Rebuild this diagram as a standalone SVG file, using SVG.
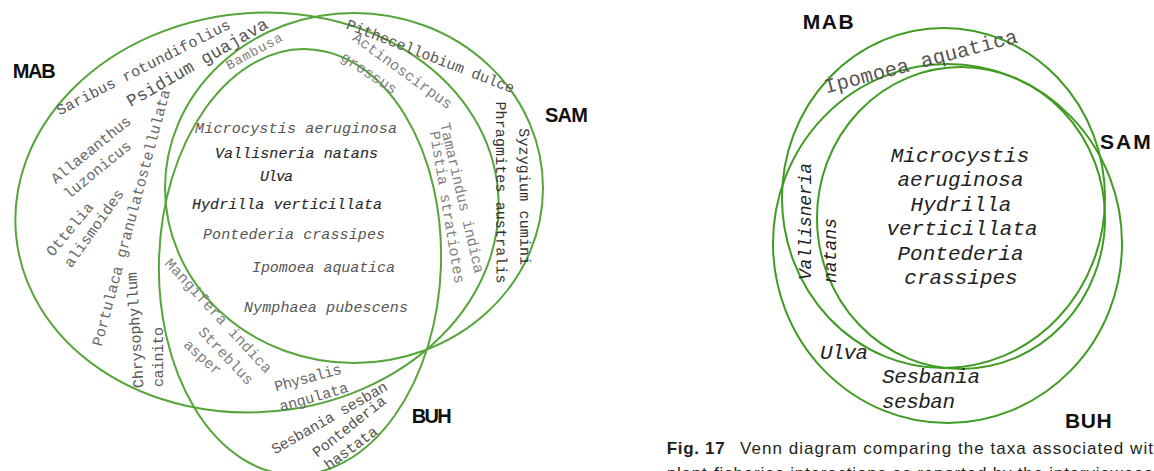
<svg xmlns="http://www.w3.org/2000/svg" width="1154" height="471" viewBox="0 0 1154 471">
<style>
.ring{fill:none;stroke:#55a53a;stroke-width:2}
.ring2{fill:none;stroke:#3f9c22;stroke-width:2}
.m{font-family:"Liberation Mono","Courier New",monospace;font-size:15px}
.c{text-anchor:middle;dominant-baseline:central}
.i{font-style:italic}
.g5{fill:#555}.g6{fill:#666}.g7{fill:#808080}.g3{fill:#333}.g2{fill:#2a2a2a;stroke:#2a2a2a;stroke-width:0.15}
.set{font-family:"Liberation Sans",Arial,sans-serif;font-weight:bold;font-size:20px;fill:#111}
.big{font-family:"Liberation Mono","Courier New",monospace;font-size:21px;font-style:italic;fill:#222}
.cap{font-family:"Liberation Sans",Arial,sans-serif;font-size:17px;fill:#231f20}
</style>
<rect width="1154" height="471" fill="#ffffff"/>
<g id="connectors"></g>
<g id="left-diagram">
  <g id="L-MAB">
    <ellipse class="ring" cx="257" cy="212.5" rx="242" ry="199.5" transform="rotate(-5.5 257 212.5)"/>
    <text class="set" x="12.7" y="78" textLength="43">MAB</text>
  </g>
  <g id="L-SAM">
    <ellipse class="ring" cx="354" cy="188" rx="189" ry="175"/>
    <text class="set" x="545" y="121.7" textLength="43">SAM</text>
  </g>
  <g id="L-BUH">
    <ellipse class="ring" cx="300" cy="262" rx="141" ry="213" transform="rotate(2 300 262)"/>
    <text class="set" x="411.7" y="422.7" textLength="40">BUH</text>
  </g>
  <g id="L-taxa-outer">
    <text class="m c g5" transform="translate(144 68.5) rotate(-27)" textLength="193">Saribus rotundifolius</text>
    <text class="m c g5" style="font-size:17.5px" transform="translate(197.5 63) rotate(-30)" textLength="160">Psidium guajava</text>
    <text class="m c g7" style="font-size:13.5px" transform="translate(254.5 52) rotate(-28.6)" textLength="62">Bambusa</text>
    <text class="m c g6" transform="translate(91.7 150.8) rotate(-38.8)" textLength="98">Allaeanthus</text>
    <text class="m c g6" transform="translate(98.3 170.8) rotate(-39.2)" textLength="82">luzonicus</text>
    <text class="m c g6" transform="translate(70.8 230) rotate(-50.2)" textLength="65">Ottelia</text>
    <text class="m c g6" transform="translate(95 229) rotate(-54.5)" textLength="92">alismoides</text>
    <text class="m c g6" transform="translate(132.5 218) rotate(-75)" textLength="265">Portulaca granulatostellulata</text>
    <text class="m c g5" transform="translate(136.5 330) rotate(-93.5)" textLength="116">Chrysophyllum</text>
    <text class="m c g5" transform="translate(159 357) rotate(-90)" textLength="60">cainito</text>
    <text class="m c g7" transform="translate(217.5 316.7) rotate(47.3)" textLength="150">Mangifera indica</text>
    <text class="m c g7" transform="translate(225 356.7) rotate(46.8)" textLength="73">Streblus</text>
    <text class="m c g7" transform="translate(201.7 358.3) rotate(42)" textLength="45">asper</text>
    <text class="m c g6" transform="translate(308.3 379) rotate(-15.3)" textLength="69">Physalis</text>
    <text class="m c g6" transform="translate(314.2 398.3) rotate(-16.3)" textLength="71">angulata</text>
    <text class="m c g5" transform="translate(330 419) rotate(-29.8)" textLength="131">Sesbania sesban</text>
    <text class="m c g5" transform="translate(350 427.5) rotate(-38.2)" textLength="89">Pontederia</text>
    <text class="m c g5" transform="translate(351.7 449) rotate(-36.2)" textLength="62">hastata</text>
    <text class="m c g5" transform="translate(430 57.5) rotate(21.3)" textLength="179">Pithecellobium dulce</text>
    <text class="m c g7" transform="translate(401.7 71.7) rotate(35.9)" textLength="119">Actinoscirpus</text>
    <text class="m c g7" transform="translate(368.3 74.2) rotate(33.3)" textLength="64">grossus</text>
    <text class="m c g7" transform="translate(460.8 198.3) rotate(76.9)" textLength="154">Tamarindus indica</text>
    <text class="m c g7" transform="translate(445.8 207.5) rotate(80.6)" textLength="154">Pistia stratiotes</text>
    <text class="m c g3" transform="translate(499.7 192.5) rotate(89.8)" textLength="182">Phragmites australis</text>
    <text class="m c g3" transform="translate(523.3 196.7) rotate(89.5)" textLength="137">Syzygium cumini</text>
  </g>
  <g id="L-taxa-core">
    <text class="m i g5" x="195" y="132.7" textLength="202">Microcystis aeruginosa</text>
    <text class="m i g2" x="215" y="158.3" textLength="163">Vallisneria natans</text>
    <text class="m i g2" x="260" y="180.7" textLength="33">Ulva</text>
    <text class="m i g2" x="192" y="209" textLength="190">Hydrilla verticillata</text>
    <text class="m i g5" x="203" y="239" textLength="182">Pontederia crassipes</text>
    <text class="m i g5" x="252" y="272.3" textLength="143">Ipomoea aquatica</text>
    <text class="m i g5" x="244" y="312.3" textLength="164">Nymphaea pubescens</text>
  </g>
</g>
<g id="right-diagram">
  <g id="R-MAB">
    <ellipse class="ring2" cx="943.5" cy="198" rx="161.5" ry="170"/>
    <text class="set" style="font-size:21px" x="802.7" y="29.3" textLength="51">MAB</text>
  </g>
  <g id="R-SAM">
    <ellipse class="ring2" cx="961" cy="218" rx="144" ry="151"/>
    <text class="set" style="font-size:21px" x="1100" y="149" textLength="50.7">SAM</text>
  </g>
  <g id="R-BUH">
    <ellipse class="ring2" cx="947.5" cy="243.5" rx="174.5" ry="179.5"/>
    <text class="set" style="font-size:21px" x="1065" y="427.7" textLength="46.7">BUH</text>
  </g>
  <g id="R-taxa">
    <text class="m c g5" style="font-size:20.5px" transform="translate(921 62.5) rotate(-14.9)" textLength="199">Ipomoea aquatica</text>
    <text class="big" style="font-size:18px" text-anchor="middle" dominant-baseline="central" transform="translate(806 221.5) rotate(-90)" textLength="117">Vallisneria</text>
    <text class="big" style="font-size:18px" text-anchor="middle" dominant-baseline="central" transform="translate(831 250.5) rotate(-90)" textLength="65">natans</text>
    <text class="big" text-anchor="middle" x="960" y="161.5">Microcystis</text>
    <text class="big" text-anchor="middle" x="960.5" y="186">aeruginosa</text>
    <text class="big" text-anchor="middle" x="961" y="210.5">Hydrilla</text>
    <text class="big" text-anchor="middle" x="962" y="235">verticillata</text>
    <text class="big" text-anchor="middle" x="960.5" y="259.5">Pontederia</text>
    <text class="big" text-anchor="middle" x="961" y="284">crassipes</text>
    <text class="big" x="820" y="359" textLength="48">Ulva</text>
    <text class="big" x="882" y="383.3" textLength="98">Sesbania</text>
    <text class="big" x="882" y="408.3" textLength="73">sesban</text>
  </g>
</g>
<g id="caption">
  <text class="cap" x="666.7" y="454.3"><tspan font-weight="bold" textLength="58">Fig. 17</tspan><tspan x="740" textLength="413">Venn diagram comparing the taxa associated wit</tspan></text>
  <text class="cap" x="666.7" y="479" textLength="486">plant-fisheries interactions as reported by the interviewees</text>
</g>
</svg>
